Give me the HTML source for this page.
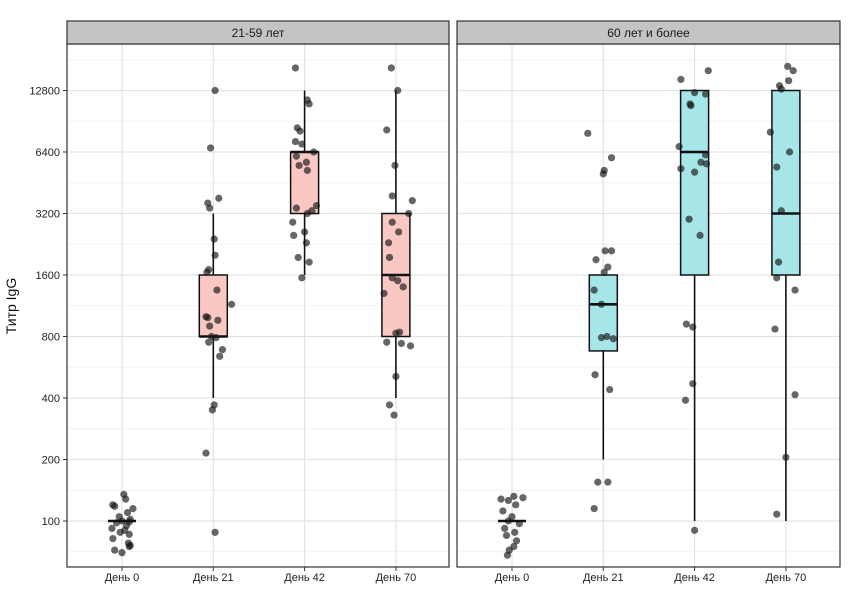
<!DOCTYPE html>
<html><head><meta charset="utf-8"><style>
html,body{margin:0;padding:0;background:#fff;}
svg text{font-family:"Liberation Sans",sans-serif;}
</style></head><body>
<svg id="chart" width="850" height="606" xmlns="http://www.w3.org/2000/svg"></svg>
<script>
const categories = ["День 0","День 21","День 42","День 70"];
const panels = ["21-59 лет","60 лет и более"];
const yTicks = [100,200,400,800,1600,3200,6400,12800];
// box stats per panel: [lower whisker, q1, median, q3, upper whisker] per category
const boxP1 = [[100,100,100,100,100],[400,800,800,1600,3200],[1600,3200,6400,6400,12800],[400,800,1600,3200,12800]];
const boxP2 = [[100,100,100,100,100],[200,680,1150,1600,1600],[100,1600,6400,12800,12800],[100,1600,3200,12800,12800]];
// points: value, jitter (fraction of category step)
const ptsP1D0 = [[135,0.02],[128,0.04],[120,-0.1],[118,-0.08],[115,0.12],[110,0.06],[105,-0.03],[102,0.09],[100,0.0],[99,0.08],[98,-0.06],[95,0.05],[92,-0.11],[90,0.03],[88,-0.02],[86,0.08],[82,-0.1],[78,0.07],[76,0.09],[75,0.08],[72,-0.08],[70,0.0]];
const ptsP1D21 = [[12800,0.02],[6700,-0.03],[3800,0.06],[3600,-0.06],[3400,-0.04],[2400,0.01],[2000,0.02],[1700,-0.05],[1650,-0.07],[1350,0.04],[1150,0.2],[1000,-0.08],[990,-0.06],[960,0.05],[900,-0.04],[800,-0.02],[790,0.03],[750,-0.05],[690,0.1],[640,0.07],[370,0.01],[350,-0.01],[215,-0.08],[88,0.02]];
const ptsP1D42 = [[16500,-0.1],[11500,0.03],[11000,0.05],[8400,-0.08],[8100,-0.05],[7200,-0.1],[7000,-0.03],[6400,0.1],[6100,-0.09],[5700,0.02],[5500,-0.06],[5200,0.03],[3500,0.13],[3400,-0.09],[3300,0.08],[3200,0.03],[2900,-0.13],[2600,0.0],[2500,-0.12],[2300,0.02],[1950,-0.07],[1850,0.05],[1550,-0.03]];
const ptsP1D70 = [[16500,-0.05],[12800,0.02],[8200,-0.1],[5500,-0.01],[3900,-0.04],[3700,0.18],[3200,0.14],[2900,-0.04],[2600,0.03],[2300,-0.08],[1950,-0.07],[1550,-0.04],[1500,0.02],[1400,0.08],[1300,-0.13],[840,0.04],[830,0.0],[750,-0.1],[740,0.06],[720,0.16],[510,0.0],[370,-0.07],[330,-0.02]];
const ptsP2D0 = [[130,0.12],[128,-0.12],[132,0.02],[126,-0.04],[120,0.04],[112,-0.1],[105,0.0],[100,-0.04],[97,0.08],[92,-0.08],[88,0.03],[85,-0.06],[80,0.05],[75,0.02],[72,-0.03],[68,-0.05]];
const ptsP2D21 = [[7900,-0.17],[6000,0.09],[5200,0.01],[5000,0.0],[2100,0.02],[2100,0.09],[1900,-0.08],[1750,0.05],[1650,0.01],[1350,-0.1],[1150,-0.02],[800,0.04],[780,0.11],[790,-0.02],[520,-0.09],[440,0.07],[155,-0.06],[155,0.05],[115,-0.1]];
const ptsP2D42 = [[16000,0.15],[14500,-0.15],[12500,0.0],[12300,0.12],[11000,-0.05],[10800,-0.04],[6800,-0.17],[6200,0.12],[5700,0.07],[5600,0.13],[5300,-0.15],[5100,0.0],[3000,-0.06],[2500,0.06],[920,-0.09],[890,-0.02],[470,-0.02],[390,-0.1],[90,0.0]];
const ptsP2D70 = [[16800,0.02],[16000,0.08],[14300,0.03],[13500,-0.07],[13000,-0.05],[8000,-0.17],[6400,0.04],[5400,-0.1],[3300,-0.05],[1850,-0.08],[1550,-0.1],[1350,0.1],[870,-0.12],[415,0.1],[205,0.0],[108,-0.1]];

const NS="http://www.w3.org/2000/svg";
const svg=document.getElementById('chart');
function mk(tag,attrs,parent){const e=document.createElementNS(NS,tag);for(const k in attrs)e.setAttribute(k,attrs[k]);(parent||svg).appendChild(e);return e;}
const yScale=v=>521-61.5*Math.log2(v/100);
const plotTop=44, plotBot=567;
const panelX=[[67,449],[457,840]];
const step=91.3;
function xScale(p,i){return panelX[p][0]+55+i*step;}
const fills=["#fac8c3","#a7e6e8"];
const allPts=[[ptsP1D0,ptsP1D21,ptsP1D42,ptsP1D70],[ptsP2D0,ptsP2D21,ptsP2D42,ptsP2D70]];
const allBox=[boxP1,boxP2];

for(let p=0;p<2;p++){
  const [x0,x1]=panelX[p];
  const g=mk('g',{});
  
  
  mk('rect',{x:x0,y:plotTop,width:x1-x0,height:plotBot-plotTop,fill:'#fff'},g);
  for(let k=0;k<yTicks.length+1;k++){
    const v=50*Math.pow(2,k)*Math.SQRT2;
    const y=yScale(v);
    if(y>plotTop&&y<plotBot) mk('line',{x1:x0,x2:x1,y1:y,y2:y,stroke:'#f2f2f2','stroke-width':1},g);
  }
  yTicks.forEach(v=>{const y=yScale(v);mk('line',{x1:x0,x2:x1,y1:y,y2:y,stroke:'#e3e3e3','stroke-width':1.2},g);});
  categories.forEach((c,i)=>{const x=xScale(p,i);mk('line',{x1:x,x2:x,y1:plotTop,y2:plotBot,stroke:'#e3e3e3','stroke-width':1.2},g);});
  allBox[p].forEach((b,i)=>{
    const x=xScale(p,i), hw=14;
    const bg=mk('g',{},g);
    
    
    mk('line',{x1:x,x2:x,y1:yScale(b[0]),y2:yScale(b[1]),stroke:'#111','stroke-width':1.6},bg);
    mk('line',{x1:x,x2:x,y1:yScale(b[3]),y2:yScale(b[4]),stroke:'#111','stroke-width':1.6},bg);
    if(b[3]>b[1]) mk('rect',{x:x-hw,y:yScale(b[3]),width:2*hw,height:yScale(b[1])-yScale(b[3]),fill:fills[p],stroke:'#111','stroke-width':1.5},bg);
    mk('line',{x1:x-hw,x2:x+hw,y1:yScale(b[2]),y2:yScale(b[2]),stroke:'#111','stroke-width':2.6},bg);
  });
  allPts[p].forEach((arr,i)=>{
    arr.forEach(([v,j])=>{
      const c=mk('circle',{cx:xScale(p,i)+j*step,cy:yScale(v),r:3.6,fill:'rgba(20,20,20,0.65)'},g);
      
      
    });
  });
  mk('rect',{x:x0,y:plotTop,width:x1-x0,height:plotBot-plotTop,fill:'none',stroke:'#333','stroke-width':1.2},g);
  const s=mk('rect',{x:x0,y:21,width:x1-x0,height:23,fill:'#c4c4c4',stroke:'#333','stroke-width':1.2});
  
  
  const st=mk('text',{x:(x0+x1)/2,y:37,'text-anchor':'middle','font-size':12,fill:'#1a1a1a','font-weight':500});
  st.textContent=panels[p];
  
  
  categories.forEach((c,i)=>{
    const x=xScale(p,i);
    mk('line',{x1:x,x2:x,y1:plotBot,y2:plotBot+4,stroke:'#333'});
    const t=mk('text',{x:x,y:581,'text-anchor':'middle','font-size':11,fill:'#222'});
    t.textContent=c;
    
    
  });
}
yTicks.forEach(v=>{
  const y=yScale(v);
  mk('line',{x1:63,x2:67,y1:y,y2:y,stroke:'#333'});
  const t=mk('text',{x:60,y:y+4,'text-anchor':'end','font-size':11,fill:'#222'});
  t.textContent=v;
  
  
});
const yl=mk('text',{x:16,y:306,'text-anchor':'middle','font-size':14,fill:'#111',transform:'rotate(-90 16 306)'});
yl.textContent='Титр IgG';


</script>
</body></html>
